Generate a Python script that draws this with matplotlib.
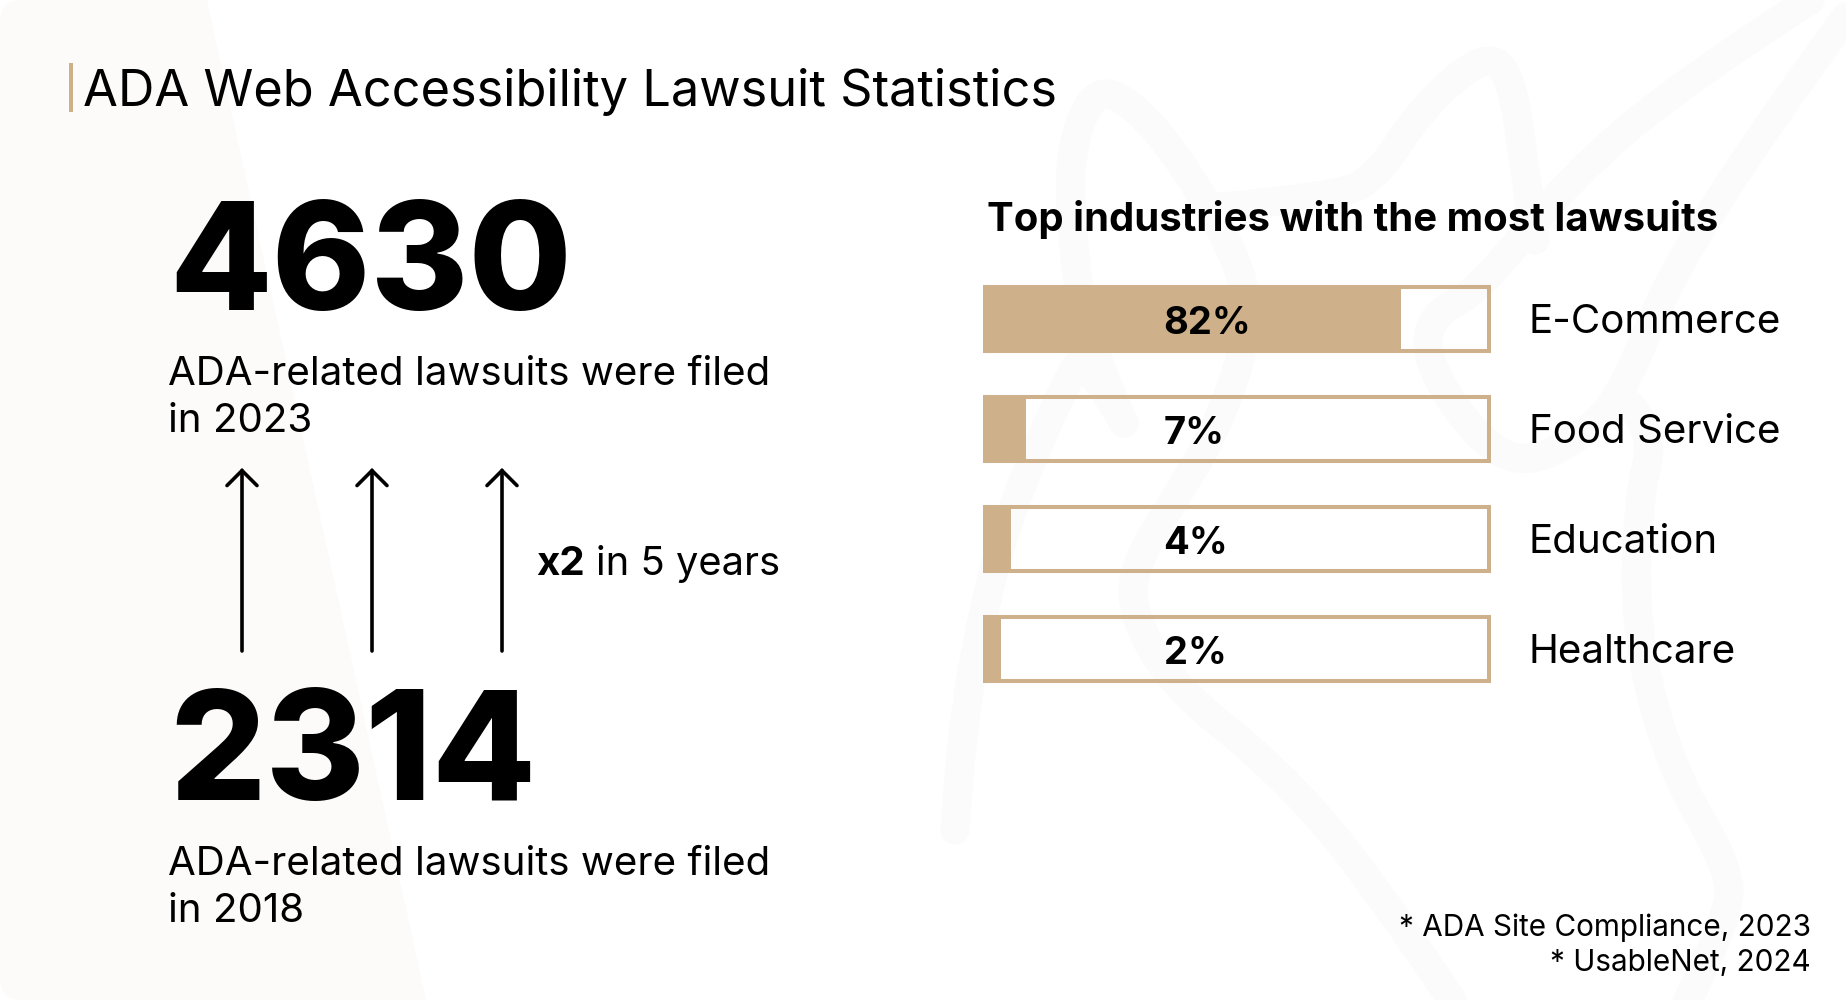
import matplotlib
matplotlib.use("Agg")
import matplotlib.pyplot as plt
from matplotlib.path import Path
from matplotlib.patches import PathPatch, FancyArrowPatch, Rectangle

plt.rcParams['font.family'] = ['Inter', 'DejaVu Sans']

# Data
title = "ADA Web Accessibility Lawsuit Statistics"
chart_title = "Top industries with the most lawsuits"
count_2023 = "4630"
count_2018 = "2314"
caption_2023 = ["ADA-related lawsuits were filed", "in 2023"]
caption_2018 = ["ADA-related lawsuits were filed", "in 2018"]
industries = ["E-Commerce", "Food Service", "Education", "Healthcare"]
shares = [82, 7, 4, 2]
sources = ["* ADA Site Compliance, 2023", "* UsableNet, 2024"]

TAN = "#CEB08A"
W, H = 1846, 1000


def fx(px):
    return px / W


def smooth(points):
    # quadratic spline through the midpoints of the control points
    verts = [points[0]]
    codes = [Path.MOVETO]
    for i in range(1, len(points) - 1):
        mid = ((points[i][0] + points[i + 1][0]) / 2, (points[i][1] + points[i + 1][1]) / 2)
        if i == len(points) - 2:
            mid = points[-1]
        verts += [points[i], mid]
        codes += [Path.CURVE3, Path.CURVE3]
    return Path(verts, codes)


fig = plt.figure(figsize=(W / 100, H / 100), dpi=100, facecolor="white")

# Page layer, in pixels
bg = fig.add_axes([0, 0, 1, 1])
bg.set_xlim(0, W)
bg.set_ylim(H, 0)
bg.axis("off")

# Pale wedge on the left with rounded corners
r = 22
wedge = Path(
    [(r, 0), (207, 0), (426, H), (r, H), (0, H), (0, H - r), (0, r), (0, 0), (r, 0), (r, 0)],
    [Path.MOVETO, Path.LINETO, Path.LINETO, Path.LINETO, Path.CURVE3, Path.CURVE3,
     Path.LINETO, Path.CURVE3, Path.CURVE3, Path.CLOSEPOLY],
)
bg.add_patch(PathPatch(wedge, fc="#FCFBF9", ec="none"))

# Faint scribble behind the bars
scribble = [
    [(955, 830), (961, 733), (985, 600), (1014, 500), (1068, 377), (1085, 355), (1124, 423)],
    [(1124, 423), (1085, 340), (1068, 200), (1075, 130), (1098, 88), (1135, 105), (1186, 167),
     (1242, 267), (1250, 333), (1215, 433), (1174, 500), (1133, 567), (1133, 617), (1174, 687),
     (1274, 767), (1363, 867), (1452, 1000)],
    [(1210, 208), (1340, 197), (1380, 173), (1420, 110), (1482, 55), (1510, 70), (1525, 167),
     (1535, 240)],
    [(1810, 0), (1690, 77), (1570, 177), (1480, 290), (1428, 317), (1428, 367), (1481, 443),
     (1528, 465), (1587, 433), (1623, 393), (1688, 233), (1846, 17)],
    [(1630, 405), (1655, 433), (1638, 500), (1635, 633), (1670, 767), (1729, 867), (1729, 917),
     (1688, 1000)],
]
for pts in scribble:
    bg.add_patch(PathPatch(smooth(pts), fc="none", ec="#FBFBFB", lw=21, capstyle="round", joinstyle="round"))

# Title with its accent rule
bg.add_patch(Rectangle((69, 63), 4, 49, fc=TAN, ec="none"))
bg.text(83, 106, title, fontsize=36.4, color="black", va="baseline")

# Left column: headline counts
bg.text(169, 310, count_2023, fontsize=107.5, fontweight=800, color="black", va="baseline")
bg.text(168, 385, caption_2023[0], fontsize=29, va="baseline")
bg.text(168, 432, caption_2023[1], fontsize=29, va="baseline")

for x in [242, 372, 502]:
    bg.add_patch(FancyArrowPatch((x, 651), (x, 468), arrowstyle="->,head_length=10.8,head_width=10.8",
                                 mutation_scale=1, lw=2.6, color="black", shrinkA=0, shrinkB=0,
                                 capstyle="round", joinstyle="miter"))

bg.text(536, 575, "x2", fontsize=29, fontweight="bold", va="baseline")
bg.text(596, 575, "in 5 years", fontsize=28.7, va="baseline")

bg.text(169, 800, count_2018, fontsize=109, fontweight=800, color="black", va="baseline")
bg.text(168, 875, caption_2018[0], fontsize=29, va="baseline")
bg.text(168, 922, caption_2018[1], fontsize=29, va="baseline")

# Right column
bg.text(987, 231, chart_title, fontsize=28.85, fontweight="bold", va="baseline")

# Bars: 5 px per percent, zero 8 px inside the left edge of the track
bars = fig.add_axes([fx(983), 1 - 704 / H, fx(508), 440 / H])
bars.patch.set_alpha(0)
bars.set_xlim(-1.6, 100)
bars.set_ylim(3.5, -0.5)
bars.axis("off")

y_pos = list(range(len(shares)))
bars.barh(y_pos, [99.6 + 1.2] * 4, left=-1.2, height=64 / 110, facecolor="none",
          edgecolor=TAN, linewidth=2.9)
bars.barh(y_pos, [s + 1.6 for s in shares], left=-1.6, height=68 / 110, color=TAN)

for y, s, name in zip(y_pos, shares, industries):
    bars.annotate(f"{s}%", (34.5, y), xytext=(0, -15), textcoords="offset pixels",
                  fontsize=27.5, fontweight="bold", va="baseline", ha="left")
    bars.annotate(name, (100, y), xytext=(38, -14), textcoords="offset pixels",
                  fontsize=29, va="baseline", ha="left", annotation_clip=False)

# Sources
bg.text(1811, 936, sources[0], fontsize=21.4, ha="right", va="baseline")
bg.text(1811, 971, sources[1], fontsize=21.4, ha="right", va="baseline")

fig.savefig("out.png", dpi=100)
